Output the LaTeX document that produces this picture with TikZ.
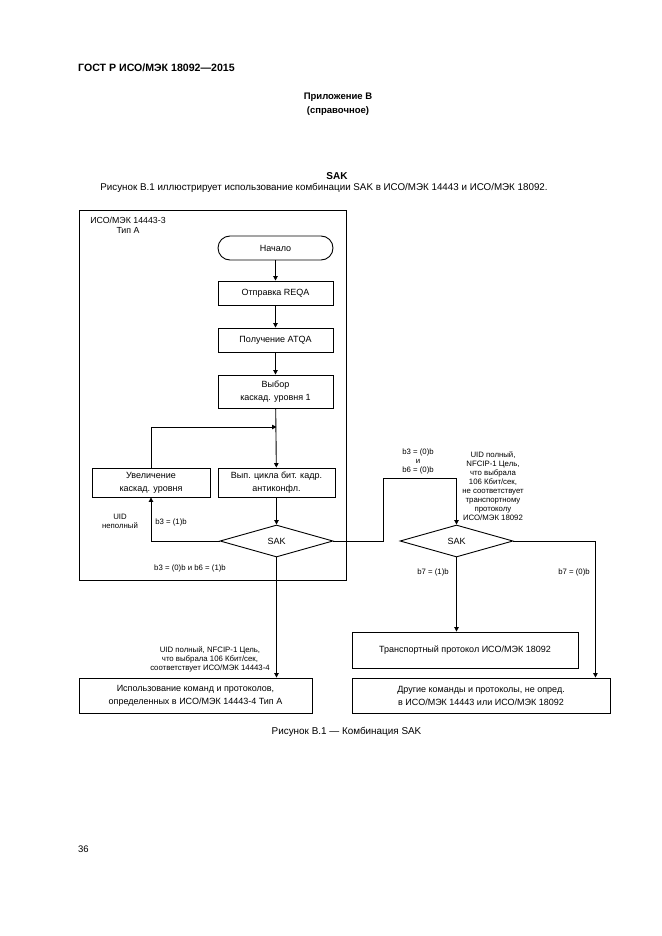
\documentclass[tikz,border=0pt]{standalone}
\usepackage{fontspec}
\setmainfont{Liberation Sans}
\usetikzlibrary{arrows.meta,shapes.geometric}
\tikzset{
  x=1pt,y=-1pt,
  ln/.style={line width=0.9pt},
  arr/.style={ln,-{Triangle[length=4.5pt,width=4.5pt]}},
  box/.style={draw,ln,inner sep=0pt,align=center,font=\fontsize{9}{13}\selectfont},
  dia/.style={draw,ln,diamond,inner sep=0pt,minimum width=113pt,minimum height=32pt,font=\fontsize{9}{11}\selectfont},
  lbl/.style={inner sep=0pt,align=center,font=\fontsize{7.8}{9}\selectfont},
}
\begin{document}
\begin{tikzpicture}
\useasboundingbox[fill=white] (0,0) rectangle (661,936);
% header texts
\node[anchor=west,inner sep=0pt,font=\bfseries\fontsize{10.6}{12}\selectfont] (hdr) at (78,68) {ГОСТ Р ИСО/МЭК 18092—2015};
\node[inner sep=0pt,align=center,font=\bfseries\fontsize{9.5}{13.5}\selectfont] (app) at (338,104) {Приложение В\\(справочное)};
\node[inner sep=0pt,font=\bfseries\fontsize{10}{12}\selectfont] (sakt) at (337,176) {SAK};
\node[inner sep=0pt,font=\fontsize{9.8}{11}\selectfont] (intro) at (324,188) {Рисунок В.1 иллюстрирует использование комбинации SAK в ИСО/МЭК 14443 и ИСО/МЭК 18092.};
% outer frame
\node[draw,ln,inner sep=0pt,minimum width=267pt,minimum height=370pt] (frame) at (212.5,395) {};
\node[lbl,font=\fontsize{8.8}{10}\selectfont] (ftitle) at (128,225) {ИСО/МЭК 14443-3\\Тип А};
% nodes
\node[box,rounded corners=12pt,minimum width=115pt,minimum height=24pt] (start) at (275.5,248) {Начало};
\node[box,minimum width=115pt,minimum height=24pt] (reqa) at (275.5,293) {Отправка REQA};
\node[box,minimum width=115pt,minimum height=24pt] (atqa) at (275.5,340) {Получение ATQA};
\node[box,minimum width=115pt,minimum height=33pt] (sel) at (275.5,391.5) {Выбор\\каскад. уровня 1};
\node[box,minimum width=118pt,minimum height=29pt] (incr) at (151,482.5) {Увеличение\\каскад. уровня};
\node[box,minimum width=117pt,minimum height=29pt] (antic) at (276.5,482.5) {Вып. цикла бит. кадр.\\антиконфл.};
\node[dia] (sak1) at (276.5,541) {SAK};
\node[dia] (sak2) at (456.5,541) {SAK};
\node[box,minimum width=233pt,minimum height=35pt] (use1) at (195.5,695.5) {Использование команд и протоколов,\\определенных в ИСО/МЭК 14443-4 Тип А};
\node[box,minimum width=226pt,minimum height=36pt] (tp) at (465,650) {Транспортный протокол ИСО/МЭК 18092};
\node[box,minimum width=258pt,minimum height=35pt] (other) at (481,695.5) {Другие команды и протоколы, не опред.\\в ИСО/МЭК 14443 или ИСО/МЭК 18092};
% coordinates
\coordinate (j1) at (276.5,427);
\coordinate (k1) at (383,478);
% connectors
\draw[arr] (start) -- (reqa);
\draw[arr] (reqa) -- (atqa);
\draw[arr] (atqa) -- (sel);
\draw[arr] (sel) -- (antic);
\draw[arr] (incr.north) |- (j1);
\draw[arr] (antic) -- (sak1);
\draw[arr] (sak1.west) -| (incr.south);
\draw[arr] (sak1.south) -- (sak1.south |- use1.north);
\draw[arr] (sak1.east) -| (k1) -| (sak2.north);
\draw[arr] (sak2.south) -- (sak2.south |- tp.north);
\draw[arr] (sak2.east) -| ([xshift=-15pt]other.north east);
% labels
\node[lbl] (l1) at (120,521.5) {UID\\неполный};
\node[lbl] (l2) at (171,522) {b3 = (1)b};
\node[lbl] (l3) at (190,568) {b3 = (0)b и b6 = (1)b};
\node[lbl] (l4) at (418,461.5) {b3 = (0)b\\и\\b6 = (0)b};
\node[lbl] (l5) at (493,486.5) {UID полный,\\NFCIP-1 Цель,\\что выбрала\\106 Кбит/сек,\\не соответствует\\транспортному\\протоколу\\ИСО/МЭК 18092};
\node[lbl] (l6) at (210,659.5) {UID полный, NFCIP-1 Цель,\\что выбрала 106 Кбит/сек,\\соответствует ИСО/МЭК 14443-4};
\node[lbl] (l7) at (433,572) {b7 = (1)b};
\node[lbl] (l8) at (574,572) {b7 = (0)b};
% caption and page
\node[inner sep=0pt,font=\fontsize{9.9}{11}\selectfont] (cap) at (346.5,732) {Рисунок В.1 — Комбинация SAK};
\node[anchor=west,inner sep=0pt,font=\fontsize{9.5}{11}\selectfont] (pg) at (78,849) {36};
\end{tikzpicture}
\end{document}
